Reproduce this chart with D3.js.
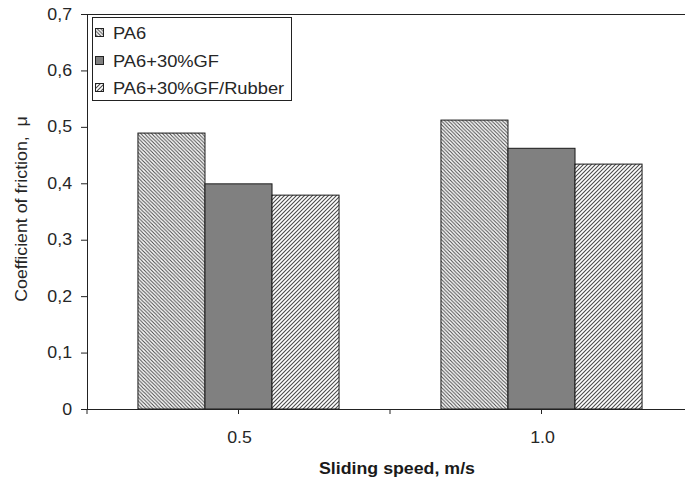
<!DOCTYPE html>
<html>
<head>
<meta charset="utf-8">
<script src="https://cdn.jsdelivr.net/npm/d3@7"></script>
<style>
  html, body { margin: 0; padding: 0; background: #fff; }
  svg { display: block; font-family: "Liberation Sans", Arial, sans-serif; }
</style>
</head>
<body>
<svg id="chart" width="685" height="480"></svg>
<script>
const categories = ["0.5", "1.0"];
const seriesNames = ["PA6", "PA6+30%GF", "PA6+30%GF/Rubber"];
const pa6 = [0.489, 0.512];
const pa6gf = [0.399, 0.462];
const pa6gfRubber = [0.379, 0.434];
const yTicks = [0, 0.1, 0.2, 0.3, 0.4, 0.5, 0.6, 0.7];
const seriesValues = [pa6, pa6gf, pa6gfRubber];

const svg = d3.select("#chart");
const mLeft = 87, mRight = 693, mTop = 14, mBottom = 409;
const textColor = "#262626";
const stretch = 1.11;

function widen(sel) {
  sel.each(function () {
    const w = this.getComputedTextLength();
    d3.select(this).attr("textLength", w * stretch).attr("lengthAdjust", "spacingAndGlyphs");
  });
}

const defs = svg.append("defs");
function hatch(id, dir, spacing) {
  const p = defs.append("pattern").attr("id", id)
    .attr("patternUnits", "userSpaceOnUse")
    .attr("width", spacing).attr("height", spacing);
  p.append("rect").attr("width", spacing).attr("height", spacing).attr("fill", "#fff");
  const d = dir === "back"
    ? `M0,0 L${spacing},${spacing} M${-spacing},0 L${spacing},${2*spacing} M0,${-spacing} L${2*spacing},${spacing}`
    : `M0,${spacing} L${spacing},0 M${-spacing},${spacing} L${spacing},${-spacing} M0,${2*spacing} L${2*spacing},0`;
  p.append("path").attr("d", d).attr("stroke", "#4a4a4a").attr("stroke-width", 1.1);
}
hatch("h-back", "back", 3.6);
hatch("h-fwd", "fwd", 4);
const fills = ["url(#h-back)", "#808080", "url(#h-fwd)"];

const x = d3.scaleBand().domain(categories).range([mLeft, mRight]).padding(0);
const xs = d3.scaleBand().domain(seriesNames).range([0, x.bandwidth()]).paddingInner(0).paddingOuter(0.76);
const y = d3.scaleLinear().domain([0, 0.7]).range([mBottom, mTop]);

// top frame line
svg.append("line").attr("x1", mLeft).attr("x2", 685).attr("y1", mTop + 0.5).attr("y2", mTop + 0.5)
  .attr("stroke", "#222").attr("stroke-width", 1);

// bars
seriesNames.forEach((s, si) => {
  svg.append("g").selectAll("rect").data(categories).join("rect")
    .attr("x", c => x(c) + xs(s))
    .attr("y", (c, i) => y(seriesValues[si][i]))
    .attr("width", xs.bandwidth())
    .attr("height", (c, i) => y(0) - y(seriesValues[si][i]))
    .attr("fill", fills[si])
    .attr("stroke", "#1a1a1a").attr("stroke-width", 1);
});

// y axis
const yAxis = d3.axisLeft(y).tickValues(yTicks).tickSize(6).tickPadding(9)
  .tickFormat(d => d === 0 ? "0" : d3.format(".1f")(d).replace(".", ","));
const gy = svg.append("g").attr("transform", `translate(${mLeft},0)`).call(yAxis);
gy.select(".domain").attr("stroke", "#222");
gy.selectAll(".tick line").attr("stroke", "#222");
gy.selectAll("text").attr("font-size", 16).attr("fill", textColor)
  .attr("font-family", "Liberation Sans, Arial, sans-serif").call(widen);

// x axis
const xTickPos = [];
categories.forEach(c => { xTickPos.push(x(c)); xTickPos.push(x(c) + x.bandwidth() / 2); });
xTickPos.push(mRight);
const gx = svg.append("g");
gx.append("line").attr("x1", mLeft).attr("x2", 685).attr("y1", mBottom + 0.5).attr("y2", mBottom + 0.5)
  .attr("stroke", "#222");
gx.selectAll("line.t").data(xTickPos).join("line").attr("class", "t")
  .attr("x1", d => d).attr("x2", d => d).attr("y1", mBottom).attr("y2", mBottom + 5)
  .attr("stroke", "#222");
gx.selectAll("text").data(categories).join("text")
  .attr("x", c => x(c) + x.bandwidth() / 2 + 1)
  .attr("y", 443).attr("text-anchor", "middle")
  .attr("font-size", 16).attr("fill", textColor).text(c => c).call(widen);

// axis titles
svg.append("text").attr("x", 397).attr("y", 474).attr("text-anchor", "middle")
  .attr("font-size", 16).attr("font-weight", "bold").attr("fill", "#1a1a1a")
  .text("Sliding speed, m/s").call(widen);
svg.append("text").attr("transform", "translate(27,209) rotate(-90)")
  .attr("text-anchor", "middle").attr("font-size", 16).attr("fill", textColor)
  .attr("xml:space", "preserve")
  .text("Coefficient of friction,  \u03BC").call(widen);

// legend
const lg = svg.append("g");
lg.append("rect").attr("x", 92.5).attr("y", 17.5).attr("width", 199).attr("height", 83)
  .attr("fill", "#fff").attr("stroke", "#222");
const ly = [33, 61, 88];
seriesNames.forEach((s, i) => {
  lg.append("rect").attr("x", 95.5).attr("y", ly[i] - 4.5).attr("width", 8).attr("height", 8)
    .attr("fill", fills[i]).attr("stroke", "#222");
  lg.append("text").attr("x", 113).attr("y", ly[i] + 6)
    .attr("font-size", 16.5).attr("fill", textColor).text(s).call(widen);
});
</script>
</body>
</html>
